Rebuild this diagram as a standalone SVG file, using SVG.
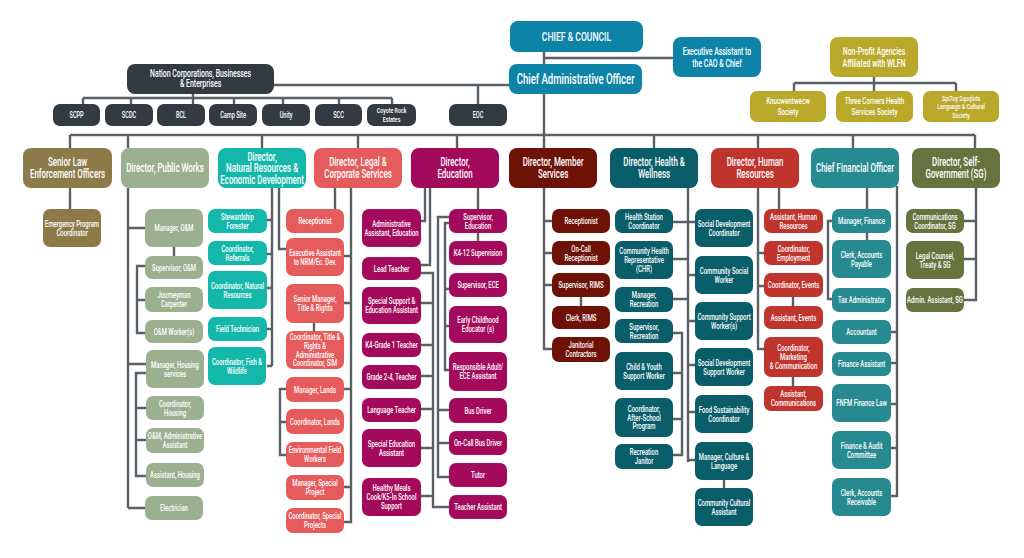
<svg xmlns="http://www.w3.org/2000/svg" width="1024" height="558" viewBox="0 0 1024 558">
<style>
.t{font-family:Roboto,"Liberation Sans",Arial,sans-serif;font-weight:500;fill:#fff;text-anchor:middle;transform-box:fill-box;transform-origin:center;transform:scaleX(0.66)}
.d{font-size:12px}.c{font-size:9px}.s{font-size:8.5px}.m{font-size:10.5px}
.ln{fill:none;stroke:#596066;stroke-width:2.4}
.blue{fill:#0d83a8}.dark{fill:#343a42}.olive{fill:#b9a82a}.law{fill:#8c7a48}.pw{fill:#9bb08f}.nr{fill:#14b8ab}.lg{fill:#e65b5b}.ed{fill:#a30a5b}.ms{fill:#6e1208}.hw{fill:#0a5e6a}.hr{fill:#c0342e}.cf{fill:#278a91}.sg{fill:#66733e}
</style>
<rect width="1024" height="558" fill="#fff"/>
<g id="connectors" class="ln">
<path d="M544,52V64M544,58H673M274,85H509M478,85V104M193,94V98M83,98H392M83,98V104M131,98V104M193,98V104M234,98V104M283,98V104M339,98V104M392,98V104"/>
<path d="M874,77V91M794,83H956M794,83V91M956,83V91"/>
<path d="M544,94V148M70,135H975M70,135V148M128,135V148M262,135V148M358,135V148M457,135V148M654,135V148M758,135V148M853,135V148M975,135V148"/>
<path d="M70,188V209"/>
<path d="M128,188V508M128,228H145M128,364H146M128,508H145M174,247V256M145,266H137V333H145M137,300H145M146,373H136V476H146M136,408H146M136,440H146"/>
<path d="M272,188V366M272,220H267M272,254H267M272,288H267M272,329H267M272,366H267M279,188V249H286"/>
<path d="M335,188V209M351,188V522H344M351,256H344M351,303H344M351,389H344M351,487H344M314,323V331M286,389H280V455H286M280,422H286"/>
<path d="M425,188V221H421M430,188V265H421M421,273H433V507H449M433,303H421M433,345H421M433,376H421M433,409H421M433,448H421M433,496H421M478,188V209M478,233V241M449,217H438V477H449M438,410H449M438,443H449M449,223H445V370H449M445,289H449M445,326H449"/>
<path d="M544,188V349H552M544,221H552M544,253H552M544,285H552M581,297V306"/>
<path d="M688,188V462M673,222H695M673,259H688M673,299H688M688,275H695M688,321H695M688,365H695M688,412H695M688,460H695M673,333H682V455H673M682,373H673M682,419H673M724,480V488"/>
<path d="M779,188V209M758,188V349H764M758,253H764M758,286H764M793,297V306M793,377V386"/>
<path d="M867,188V209M867,233V240M832,221H828V299H832M897,186V496H891M897,332H891M897,363H891M897,404H891M897,448H891"/>
<path d="M976,188V300H964M976,221H964M976,259H964"/>
</g>
<g id="chief"><rect class="blue" x="510" y="21" width="133" height="31" rx="8"/><text class="t" style="font-size:13px" x="576.5" y="41">CHIEF &amp; COUNCIL</text></g>
<g id="cao"><rect class="blue" x="509" y="64" width="133" height="30" rx="8"/><text class="t" style="font-size:14.5px" x="575.5" y="84">Chief Administrative Officer</text></g>
<g id="exec"><rect class="blue" x="673" y="37" width="88" height="40" rx="8"/><text class="t m"><tspan x="717" y="54.7">Executive Assistant to</tspan><tspan x="717" y="66.7">the CAO &amp; Chief</tspan></text></g>
<g id="nonprofit"><rect class="olive" x="830" y="37" width="88" height="40" rx="8"/><text class="t m"><tspan x="874" y="54.7">Non-Profit Agencies</tspan><tspan x="874" y="66.7">Affiliated with WLFN</tspan></text></g>
<g id="knuc"><rect class="olive" x="750" y="91" width="76" height="31" rx="7"/><text class="t" style="font-size:9.5px"><tspan x="788" y="104.3">Knucwentwecw</tspan><tspan x="788" y="115.3">Society</tspan></text></g>
<g id="threecorners"><rect class="olive" x="836" y="91" width="77" height="31" rx="7"/><text class="t" style="font-size:9.5px"><tspan x="874.5" y="104.3">Three Corners Health</tspan><tspan x="874.5" y="115.3">Services Society</tspan></text></g>
<g id="spi7uy"><rect class="olive" x="923" y="91" width="76" height="31" rx="7"/><text class="t" style="font-size:8px"><tspan x="961" y="101.2">Spi7uy Squqluts</tspan><tspan x="961" y="109.5">Language &amp; Cultural</tspan><tspan x="961" y="117.8">Society</tspan></text></g>
<g id="nation"><rect class="dark" x="127" y="64" width="147" height="30" rx="8"/><text class="t" style="font-size:10.5px"><tspan x="200.5" y="77.5">Nation Corporations, Businesses</tspan><tspan x="200.5" y="87.5">&amp; Enterprises</tspan></text></g>
<g id="scpp"><rect class="dark" x="53" y="104" width="47" height="22" rx="7"/><text class="t s" x="76.5" y="118">SCPP</text></g>
<g id="scdc"><rect class="dark" x="105" y="104" width="48" height="22" rx="7"/><text class="t s" x="129" y="118">SCDC</text></g>
<g id="bcl"><rect class="dark" x="157" y="104" width="48" height="22" rx="7"/><text class="t s" x="181" y="118">BCL</text></g>
<g id="campsite"><rect class="dark" x="209" y="104" width="48" height="22" rx="7"/><text class="t s" x="233" y="118">Camp Site</text></g>
<g id="unity"><rect class="dark" x="262" y="104" width="48" height="22" rx="7"/><text class="t s" x="286" y="118">Unity</text></g>
<g id="scc"><rect class="dark" x="315" y="104" width="47" height="22" rx="7"/><text class="t s" x="338.5" y="118">SCC</text></g>
<g id="coyote"><rect class="dark" x="367" y="104" width="49" height="22" rx="7"/><text class="t" style="font-size:8px"><tspan x="391.5" y="113.5">Coyote Rock</tspan><tspan x="391.5" y="121.9">Estates</tspan></text></g>
<g id="eoc"><rect class="dark" x="449" y="104" width="58" height="22" rx="7"/><text class="t s" x="478" y="118">EOC</text></g>

<g id="d_law"><rect class="law" x="23" y="148" width="89" height="40" rx="8"/><text class="t d"><tspan x="67.5" y="166.45">Senior Law</tspan><tspan x="67.5" y="177.95">Enforcement Officers</tspan></text></g>
<g id="d_pw"><rect class="pw" x="121" y="148" width="88" height="40" rx="8"/><text class="t d" x="165" y="172.2">Director, Public Works</text></g>
<g id="d_nr"><rect class="nr" x="218" y="148" width="88" height="40" rx="8"/><text class="t d"><tspan x="262" y="160.7">Director,</tspan><tspan x="262" y="172.2">Natural Resources &amp;</tspan><tspan x="262" y="183.7">Economic Development</tspan></text></g>
<g id="d_legal"><rect class="lg" x="314" y="148" width="88" height="40" rx="8"/><text class="t d"><tspan x="358" y="166.45">Director, Legal &amp;</tspan><tspan x="358" y="177.95">Corporate Services</tspan></text></g>
<g id="d_edu"><rect class="ed" x="411" y="148" width="88" height="40" rx="8"/><text class="t d"><tspan x="455" y="166.45">Director,</tspan><tspan x="455" y="177.95">Education</tspan></text></g>
<g id="d_ms"><rect class="ms" x="509" y="148" width="88" height="40" rx="8"/><text class="t d"><tspan x="553" y="166.45">Director, Member</tspan><tspan x="553" y="177.95">Services</tspan></text></g>
<g id="d_hw"><rect class="hw" x="610" y="148" width="88" height="40" rx="8"/><text class="t d"><tspan x="654" y="166.45">Director, Health &amp;</tspan><tspan x="654" y="177.95">Wellness</tspan></text></g>
<g id="d_hr"><rect class="hr" x="711" y="148" width="88" height="40" rx="8"/><text class="t d"><tspan x="755" y="166.45">Director, Human</tspan><tspan x="755" y="177.95">Resources</tspan></text></g>
<g id="d_cfo"><rect class="cf" x="811" y="148" width="88" height="40" rx="8"/><text class="t d" x="855" y="172.2">Chief Financial Officer</text></g>
<g id="d_sg"><rect class="sg" x="912" y="148" width="88" height="40" rx="8"/><text class="t d"><tspan x="956" y="166.45">Director, Self-</tspan><tspan x="956" y="177.95">Government (SG)</tspan></text></g>

<g id="epc"><rect class="law" x="43" y="209" width="58" height="38" rx="7"/><text class="t c"><tspan x="72" y="226.8">Emergency Program</tspan><tspan x="72" y="235.6">Coordinator</tspan></text></g>

<g id="mgr_om"><rect class="pw" x="145" y="209" width="58" height="38" rx="7"/><text class="t c" x="174" y="231.2">Manager, O&amp;M</text></g>
<g id="sup_om"><rect class="pw" x="145" y="256" width="58" height="23" rx="7"/><text class="t c" x="174" y="270.7">Supervisor, O&amp;M</text></g>
<g id="journeyman"><rect class="pw" x="145" y="287" width="58" height="25" rx="7"/><text class="t c"><tspan x="174" y="298.3">Journeyman</tspan><tspan x="174" y="307.1">Carpenter</tspan></text></g>
<g id="om_workers"><rect class="pw" x="145" y="320" width="58" height="23" rx="7"/><text class="t c" x="174" y="334.7">O&amp;M Worker(s)</text></g>
<g id="mgr_housing"><rect class="pw" x="146" y="350" width="58" height="38" rx="7"/><text class="t c"><tspan x="175" y="367.8">Manager, Housing</tspan><tspan x="175" y="376.6">services</tspan></text></g>
<g id="coord_housing"><rect class="pw" x="146" y="396" width="58" height="24" rx="7"/><text class="t c"><tspan x="175" y="406.8">Coordinator,</tspan><tspan x="175" y="415.6">Housing</tspan></text></g>
<g id="om_admin"><rect class="pw" x="146" y="428" width="58" height="25" rx="7"/><text class="t c"><tspan x="175" y="439.3">O&amp;M, Administrative</tspan><tspan x="175" y="448.1">Assistant</tspan></text></g>
<g id="asst_housing"><rect class="pw" x="146" y="463" width="58" height="24" rx="7"/><text class="t c" x="175" y="478.2">Assistant, Housing</text></g>
<g id="electrician"><rect class="pw" x="145" y="496" width="58" height="24" rx="7"/><text class="t c" x="174" y="511.2">Electrician</text></g>

<g id="stewardship"><rect class="nr" x="208" y="209" width="59" height="24" rx="7"/><text class="t c"><tspan x="237.5" y="219.8">Stewardship</tspan><tspan x="237.5" y="228.6">Forester</tspan></text></g>
<g id="referrals"><rect class="nr" x="208" y="241" width="59" height="24" rx="7"/><text class="t c"><tspan x="237.5" y="251.8">Coordinator,</tspan><tspan x="237.5" y="260.6">Referrals</tspan></text></g>
<g id="coord_nr"><rect class="nr" x="208" y="271" width="59" height="38" rx="7"/><text class="t c"><tspan x="237.5" y="288.8">Coordinator, Natural</tspan><tspan x="237.5" y="297.6">Resources</tspan></text></g>
<g id="field_tech"><rect class="nr" x="208" y="317" width="59" height="24" rx="7"/><text class="t c" x="237.5" y="332.2">Field Technician</text></g>
<g id="fish"><rect class="nr" x="208" y="347" width="58" height="38" rx="7"/><text class="t c"><tspan x="237" y="364.8">Coordinator, Fish &amp;</tspan><tspan x="237" y="373.6">Wildlife</tspan></text></g>

<g id="lg_recept"><rect class="lg" x="286" y="209" width="58" height="24" rx="7"/><text class="t c" x="315" y="224.2">Receptionist</text></g>
<g id="exec_nrm"><rect class="lg" x="286" y="238" width="58" height="38" rx="7"/><text class="t c"><tspan x="315" y="255.8">Executive Assistant</tspan><tspan x="315" y="264.6">to NRM/Ec. Dev.</tspan></text></g>
<g id="sr_mgr"><rect class="lg" x="286" y="284" width="58" height="39" rx="7"/><text class="t c"><tspan x="315" y="302.3">Senior Manager,</tspan><tspan x="315" y="311.1">Title &amp; Rights</tspan></text></g>
<g id="coord_title"><rect class="lg" x="286" y="331" width="58" height="38" rx="7"/><text class="t c"><tspan x="315" y="340">Coordinator, Title &amp;</tspan><tspan x="315" y="348.8">Rights &amp;</tspan><tspan x="315" y="357.6">Administrative</tspan><tspan x="315" y="366.4">Coordinator, SIM</tspan></text></g>
<g id="mgr_lands"><rect class="lg" x="286" y="377" width="58" height="25" rx="7"/><text class="t c" x="315" y="392.7">Manager, Lands</text></g>
<g id="coord_lands"><rect class="lg" x="286" y="409" width="58" height="25" rx="7"/><text class="t c" x="315" y="424.7">Coordinator, Lands</text></g>
<g id="env_field"><rect class="lg" x="286" y="442" width="58" height="25" rx="7"/><text class="t c"><tspan x="315" y="453.3">Environmental Field</tspan><tspan x="315" y="462.1">Workers</tspan></text></g>
<g id="mgr_sp"><rect class="lg" x="286" y="475" width="58" height="25" rx="7"/><text class="t c"><tspan x="315" y="486.3">Manager, Special</tspan><tspan x="315" y="495.1">Project</tspan></text></g>
<g id="coord_sp"><rect class="lg" x="286" y="508" width="58" height="25" rx="7"/><text class="t c"><tspan x="315" y="519.3">Coordinator, Special</tspan><tspan x="315" y="528.1">Projects</tspan></text></g>

<g id="admin_edu"><rect class="ed" x="362" y="209" width="59" height="38" rx="7"/><text class="t c"><tspan x="391.5" y="226.8">Administrative</tspan><tspan x="391.5" y="235.6">Assistant, Education</tspan></text></g>
<g id="lead_teacher"><rect class="ed" x="362" y="257" width="59" height="23" rx="7"/><text class="t c" x="391.5" y="271.7">Lead Teacher</text></g>
<g id="special_support"><rect class="ed" x="362" y="287" width="59" height="37" rx="7"/><text class="t c"><tspan x="391.5" y="304.3">Special Support &amp;</tspan><tspan x="391.5" y="313.1">Education Assistant</tspan></text></g>
<g id="k4"><rect class="ed" x="362" y="333" width="59" height="24" rx="7"/><text class="t c" x="391.5" y="348.2">K4-Grade 1 Teacher</text></g>
<g id="g24"><rect class="ed" x="362" y="365" width="59" height="24" rx="7"/><text class="t c" x="391.5" y="380.2">Grade 2-4, Teacher</text></g>
<g id="lang"><rect class="ed" x="362" y="398" width="59" height="24" rx="7"/><text class="t c" x="391.5" y="413.2">Language Teacher</text></g>
<g id="sped"><rect class="ed" x="362" y="429" width="59" height="38" rx="7"/><text class="t c"><tspan x="391.5" y="446.8">Special Education</tspan><tspan x="391.5" y="455.6">Assistant</tspan></text></g>
<g id="healthy"><rect class="ed" x="362" y="478" width="59" height="38" rx="7"/><text class="t c"><tspan x="391.5" y="491.4">Healthy Meals</tspan><tspan x="391.5" y="500.2">Cook/K5-In School</tspan><tspan x="391.5" y="509">Support</tspan></text></g>
<g id="sup_edu"><rect class="ed" x="449" y="209" width="58" height="24" rx="7"/><text class="t c"><tspan x="478" y="219.8">Supervisor,</tspan><tspan x="478" y="228.6">Education</tspan></text></g>
<g id="k412"><rect class="ed" x="449" y="241" width="58" height="24" rx="7"/><text class="t c" x="478" y="256.2">K4-12 Supervision</text></g>
<g id="sup_ece"><rect class="ed" x="449" y="273" width="58" height="24" rx="7"/><text class="t c" x="478" y="288.2">Supervisor, ECE</text></g>
<g id="ece"><rect class="ed" x="449" y="306" width="58" height="37" rx="7"/><text class="t c"><tspan x="478" y="323.3">Early Childhood</tspan><tspan x="478" y="332.1">Educator (s)</tspan></text></g>
<g id="resp_adult"><rect class="ed" x="449" y="352" width="58" height="39" rx="7"/><text class="t c"><tspan x="478" y="370.3">Responsible Adult/</tspan><tspan x="478" y="379.1">ECE Assistant</tspan></text></g>
<g id="bus"><rect class="ed" x="449" y="398" width="58" height="25" rx="7"/><text class="t c" x="478" y="413.7">Bus Driver</text></g>
<g id="oncall_bus"><rect class="ed" x="449" y="431" width="58" height="24" rx="7"/><text class="t c" x="478" y="446.2">On-Call Bus Driver</text></g>
<g id="tutor"><rect class="ed" x="449" y="463" width="58" height="24" rx="7"/><text class="t c" x="478" y="478.2">Tutor</text></g>
<g id="teacher_asst"><rect class="ed" x="449" y="495" width="58" height="24" rx="7"/><text class="t c" x="478" y="510.2">Teacher Assistant</text></g>

<g id="ms_recept"><rect class="ms" x="552" y="209" width="58" height="24" rx="7"/><text class="t c" x="581" y="224.2">Receptionist</text></g>
<g id="oncall_recept"><rect class="ms" x="552" y="241" width="58" height="24" rx="7"/><text class="t c"><tspan x="581" y="251.8">On-Call</tspan><tspan x="581" y="260.6">Receptionist</tspan></text></g>
<g id="sup_rims"><rect class="ms" x="552" y="273" width="58" height="24" rx="7"/><text class="t c" x="581" y="288.2">Supervisor, RIMS</text></g>
<g id="clerk_rims"><rect class="ms" x="552" y="306" width="58" height="23" rx="7"/><text class="t c" x="581" y="320.7">Clerk, RIMS</text></g>
<g id="janitorial"><rect class="ms" x="552" y="337" width="58" height="25" rx="7"/><text class="t c"><tspan x="581" y="348.3">Janitorial</tspan><tspan x="581" y="357.1">Contractors</tspan></text></g>

<g id="hsc"><rect class="hw" x="615" y="209" width="58" height="24" rx="7"/><text class="t c"><tspan x="644" y="219.8">Health Station</tspan><tspan x="644" y="228.6">Coordinator</tspan></text></g>
<g id="chr"><rect class="hw" x="615" y="241" width="58" height="38" rx="7"/><text class="t c"><tspan x="644" y="254.4">Community Health</tspan><tspan x="644" y="263.2">Representative</tspan><tspan x="644" y="272">(CHR)</tspan></text></g>
<g id="mgr_rec"><rect class="hw" x="615" y="287" width="58" height="25" rx="7"/><text class="t c"><tspan x="644" y="298.3">Manager,</tspan><tspan x="644" y="307.1">Recreation</tspan></text></g>
<g id="sup_rec"><rect class="hw" x="615" y="319" width="58" height="24" rx="7"/><text class="t c"><tspan x="644" y="329.8">Supervisor,</tspan><tspan x="644" y="338.6">Recreation</tspan></text></g>
<g id="child_youth"><rect class="hw" x="615" y="352" width="58" height="38" rx="7"/><text class="t c"><tspan x="644" y="369.8">Child &amp; Youth</tspan><tspan x="644" y="378.6">Support Worker</tspan></text></g>
<g id="after_school"><rect class="hw" x="615" y="398" width="58" height="39" rx="7"/><text class="t c"><tspan x="644" y="411.9">Coordinator,</tspan><tspan x="644" y="420.7">After-School</tspan><tspan x="644" y="429.5">Program</tspan></text></g>
<g id="rec_janitor"><rect class="hw" x="615" y="444" width="58" height="25" rx="7"/><text class="t c"><tspan x="644" y="455.3">Recreation</tspan><tspan x="644" y="464.1">Janitor</tspan></text></g>
<g id="sdc"><rect class="hw" x="695" y="209" width="58" height="38" rx="7"/><text class="t c"><tspan x="724" y="226.8">Social Development</tspan><tspan x="724" y="235.6">Coordinator</tspan></text></g>
<g id="csw"><rect class="hw" x="695" y="256" width="58" height="38" rx="7"/><text class="t c"><tspan x="724" y="273.8">Community Social</tspan><tspan x="724" y="282.6">Worker</tspan></text></g>
<g id="csupw"><rect class="hw" x="695" y="302" width="58" height="38" rx="7"/><text class="t c"><tspan x="724" y="319.8">Community Support</tspan><tspan x="724" y="328.6">Worker(s)</tspan></text></g>
<g id="sdsw"><rect class="hw" x="695" y="348" width="58" height="38" rx="7"/><text class="t c"><tspan x="724" y="365.8">Social Development</tspan><tspan x="724" y="374.6">Support Worker</tspan></text></g>
<g id="food"><rect class="hw" x="695" y="395" width="58" height="38" rx="7"/><text class="t c"><tspan x="724" y="412.8">Food Sustainability</tspan><tspan x="724" y="421.6">Coordinator</tspan></text></g>
<g id="mgr_culture"><rect class="hw" x="695" y="442" width="58" height="38" rx="7"/><text class="t c"><tspan x="724" y="459.8">Manager, Culture &amp;</tspan><tspan x="724" y="468.6">Language</tspan></text></g>
<g id="cca"><rect class="hw" x="695" y="488" width="58" height="38" rx="7"/><text class="t c"><tspan x="724" y="505.8">Community Cultural</tspan><tspan x="724" y="514.6">Assistant</tspan></text></g>

<g id="asst_hr"><rect class="hr" x="764" y="209" width="59" height="24" rx="7"/><text class="t c"><tspan x="793.5" y="219.8">Assistant, Human</tspan><tspan x="793.5" y="228.6">Resources</tspan></text></g>
<g id="coord_emp"><rect class="hr" x="764" y="241" width="59" height="24" rx="7"/><text class="t c"><tspan x="793.5" y="251.8">Coordinator,</tspan><tspan x="793.5" y="260.6">Employment</tspan></text></g>
<g id="coord_events"><rect class="hr" x="764" y="273" width="59" height="24" rx="7"/><text class="t c" x="793.5" y="288.2">Coordinator, Events</text></g>
<g id="asst_events"><rect class="hr" x="764" y="306" width="59" height="23" rx="7"/><text class="t c" x="793.5" y="320.7">Assistant, Events</text></g>
<g id="coord_mkt"><rect class="hr" x="764" y="337" width="59" height="40" rx="7"/><text class="t c"><tspan x="793.5" y="351.4">Coordinator,</tspan><tspan x="793.5" y="360.2">Marketing</tspan><tspan x="793.5" y="369">&amp; Communication</tspan></text></g>
<g id="asst_comm"><rect class="hr" x="764" y="386" width="59" height="25" rx="7"/><text class="t c"><tspan x="793.5" y="397.3">Assistant,</tspan><tspan x="793.5" y="406.1">Communications</tspan></text></g>

<g id="mgr_fin"><rect class="cf" x="832" y="209" width="59" height="24" rx="7"/><text class="t c" x="861.5" y="224.2">Manager, Finance</text></g>
<g id="clerk_ap"><rect class="cf" x="832" y="240" width="59" height="38" rx="7"/><text class="t c"><tspan x="861.5" y="257.8">Clerk, Accounts</tspan><tspan x="861.5" y="266.6">Payable</tspan></text></g>
<g id="tax"><rect class="cf" x="832" y="288" width="59" height="24" rx="7"/><text class="t c" x="861.5" y="303.2">Tax Administrator</text></g>
<g id="accountant"><rect class="cf" x="832" y="320" width="59" height="24" rx="7"/><text class="t c" x="861.5" y="335.2">Accountant</text></g>
<g id="fin_asst"><rect class="cf" x="832" y="352" width="59" height="24" rx="7"/><text class="t c" x="861.5" y="367.2">Finance Assistant</text></g>
<g id="fnfm"><rect class="cf" x="832" y="384" width="59" height="38" rx="7"/><text class="t c" x="861.5" y="406.2">FNFM Finance Law</text></g>
<g id="fac"><rect class="cf" x="832" y="431" width="59" height="38" rx="7"/><text class="t c"><tspan x="861.5" y="448.8">Finance &amp; Audit</tspan><tspan x="861.5" y="457.6">Committee</tspan></text></g>
<g id="clerk_ar"><rect class="cf" x="832" y="478" width="59" height="38" rx="7"/><text class="t c"><tspan x="861.5" y="495.8">Clerk, Accounts</tspan><tspan x="861.5" y="504.6">Receivable</tspan></text></g>

<g id="comms_sg"><rect class="sg" x="906" y="209" width="58" height="24" rx="7"/><text class="t c"><tspan x="935" y="219.8">Communications</tspan><tspan x="935" y="228.6">Coordinator, SG</tspan></text></g>
<g id="legal_sg"><rect class="sg" x="906" y="241" width="58" height="38" rx="7"/><text class="t c"><tspan x="935" y="258.8">Legal Counsel,</tspan><tspan x="935" y="267.6">Treaty &amp; SG</tspan></text></g>
<g id="admin_sg"><rect class="sg" x="906" y="288" width="58" height="24" rx="7"/><text class="t c" x="935" y="303.2">Admin. Assistant, SG</text></g>
</svg>
